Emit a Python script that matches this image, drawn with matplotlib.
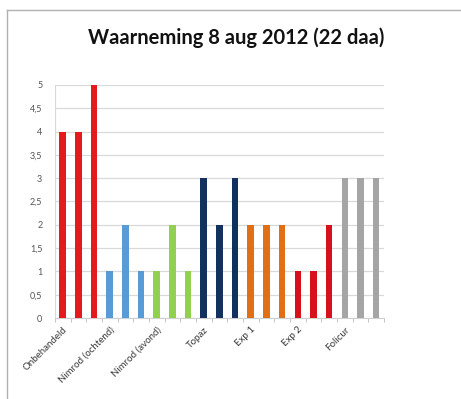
import matplotlib.pyplot as plt
from matplotlib.lines import Line2D
import numpy as np

# groups of three observations per treatment
groups = ['Onbehandeld', 'Nimrod (ochtend)', 'Nimrod (avond)', 'Topaz', 'Exp 1', 'Exp 2', 'Folicur']
values = [4, 4, 5,
          1, 2, 1,
          1, 2, 1,
          3, 2, 3,
          2, 2, 2,
          1, 1, 2,
          3, 3, 3]
group_colors = ['#e41a1c', '#5b9bd5', '#92d050', '#12315f', '#e07018', '#d7101e', '#a5a5a6']
yticks = [0, 0.5, 1, 1.5, 2, 2.5, 3, 3.5, 4, 4.5, 5]

x = np.arange(len(values))
colors = [group_colors[i // 3] for i in range(len(values))]
labels = []
for g in groups:
    labels += [g, '', '']

fig = plt.figure(figsize=(4.61, 3.99), dpi=100)
ax = fig.add_axes([0.119, 0.203, 0.714, 0.584])

ax.bar(x, values, width=0.42, color=colors, zorder=3)

ax.set_xlim(-0.5, len(values) - 0.5)
ax.set_ylim(0, 5)
ax.set_yticks(yticks)
ax.set_yticklabels([('%g' % v).replace('.', ',') for v in yticks], fontsize=6.5,
                   color='#555555', family='Lato')
ax.yaxis.grid(True, color='#d9d9d9', linewidth=0.9, zorder=0)
ax.tick_params(axis='y', length=0, pad=9)

ax.set_xticks(x)
ax.set_xticklabels(labels, rotation=45, ha='right', rotation_mode='anchor',
                   fontsize=7, color='#3a3a3a', family='Lato')
ax.set_xticks(np.arange(-0.5, len(values), 1), minor=True)
ax.tick_params(axis='x', which='major', length=0, pad=5)
ax.tick_params(axis='x', which='minor', length=3, color='#bbbbbb', width=0.6)

for s in ['top', 'right']:
    ax.spines[s].set_visible(False)
ax.spines['left'].set_color('#d9d9d9')
ax.spines['bottom'].set_color('#d0d0d0')

fig.text(0.513, 0.905, 'Waarneming 8 aug 2012 (22 daa)', ha='center', va='center',
         fontsize=14.5, fontweight='bold', family='Lato', color='#111111')

# chart frame (only left and top edges visible in the crop)
fig.add_artist(Line2D([7 / 461, 7 / 461], [0, 1 - 10 / 399], color='#b0b0b0', linewidth=1))
fig.add_artist(Line2D([7 / 461, 1.02], [1 - 10 / 399, 1 - 10 / 399], color='#b0b0b0', linewidth=1))

fig.savefig('out.png', dpi=100)
